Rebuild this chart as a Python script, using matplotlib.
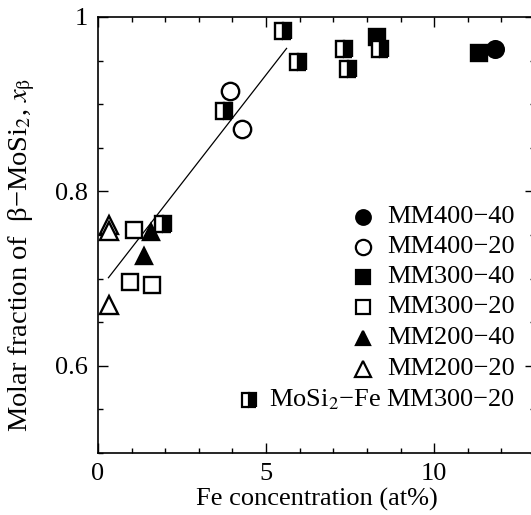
import matplotlib

matplotlib.use('agg')

import matplotlib.pyplot as plt
from matplotlib.ticker import MultipleLocator, FixedLocator

plt.rcParams['font.family'] = ['Liberation Serif', 'DejaVu Serif']
plt.rcParams['mathtext.fontset'] = 'stix'
plt.rcParams['font.size'] = 19

# data: Fe concentration (at%) vs beta-MoSi2 fraction
mm400_40_x = [11.82]
mm400_40_y = [0.963]
mm400_20_x = [3.93, 4.27]
mm400_20_y = [0.915, 0.871]
mm300_40_x = [11.34, 8.31]
mm300_40_y = [0.959, 0.977]
mm300_20_x = [1.08, 0.95, 1.62]
mm300_20_y = [0.756, 0.696, 0.693]
mm200_40_x = [1.58, 1.37]
mm200_40_y = [0.753, 0.726]
mm200_20_x = [0.33, 0.33, 0.34]
mm200_20_y = [0.761, 0.755, 0.670]
fe_mm300_20_x = [5.50, 5.94, 7.33, 7.43, 8.39, 3.76, 1.92]
fe_mm300_20_y = [0.984, 0.948, 0.963, 0.940, 0.963, 0.892, 0.763]

fit_x = [0.31, 5.61]
fit_y = [0.701, 0.964]

labels = ['MM400\u221240', 'MM400\u221220', 'MM300\u221240', 'MM300\u221220',
          'MM200\u221240', 'MM200\u221220', 'MoSi$_2$\u2212Fe MM300\u221220']

fig = plt.figure(figsize=(5.31, 5.15), dpi=100)
W, H = 531.0, 515.0
ax = fig.add_axes([98 / W, 1 - 453 / H, (535 - 98) / W, (453 - 17) / H])

styles = [
    dict(marker='o', mfc='black', ms=12),
    dict(marker='o', mfc='white', ms=12.5),
    dict(marker='s', mfc='black', ms=11.5),
    dict(marker='s', mfc='white', ms=11.5),
    dict(marker='^', mfc='black', ms=12),
    dict(marker='^', mfc='white', ms=12.5),
    dict(marker='s', mfc='black', ms=11.5, fillstyle='right',
         markerfacecoloralt='white'),
]
series = [(mm400_40_x, mm400_40_y), (mm400_20_x, mm400_20_y),
          (mm300_40_x, mm300_40_y), (mm300_20_x, mm300_20_y),
          (mm200_40_x, mm200_40_y), (mm200_20_x, mm200_20_y),
          (fe_mm300_20_x, fe_mm300_20_y)]

ax.plot(fit_x, fit_y, color='black', lw=0.9)

for (x, y), st in zip(series, styles):
    ax.plot(x, y, ls='none', mec='black', mew=1.7, zorder=3, **st)

# legend drawn by hand so rows are right aligned like the original
rows_y = [0.541, 0.472, 0.404, 0.335, 0.264, 0.193, 0.122]
for i, (lab, st) in enumerate(zip(labels, styles)):
    mx = 0.346 if i == 6 else 0.606
    leg_st = dict(st)
    leg_st['ms'] = st['ms'] - 1.5
    ax.plot([mx], [rows_y[i]], ls='none', mec='black', mew=1.6,
            transform=ax.transAxes, clip_on=False, **leg_st)
    ax.text(0.954, rows_y[i], lab, transform=ax.transAxes,
            ha='right', va='center')

ax.set_xlim(0, 13)
ax.set_ylim(0.5, 1.0)
ax.xaxis.set_major_locator(FixedLocator([0, 5, 10]))
ax.xaxis.set_minor_locator(MultipleLocator(1))
ax.yaxis.set_major_locator(FixedLocator([0.6, 0.8, 1.0]))
ax.yaxis.set_minor_locator(MultipleLocator(0.05))
ax.set_yticklabels(['0.6', '0.8', '1'])
ax.tick_params(which='both', direction='in', top=True, right=True,
               width=1.0)
ax.tick_params(which='major', length=7, pad=7)
ax.tick_params(which='minor', length=3.5)
for s in ax.spines.values():
    s.set_linewidth(1.2)

ax.set_xlabel('Fe concentration (at%)', labelpad=2)
ax.set_ylabel('Molar fraction of  \u03b2\u2212MoSi$_2$, $x_\\mathrm{\u03b2}$',
              fontsize=20.5, labelpad=10)
ax.yaxis.set_label_coords(-0.14, 0.455)

fig.savefig('out.png', dpi=100)
